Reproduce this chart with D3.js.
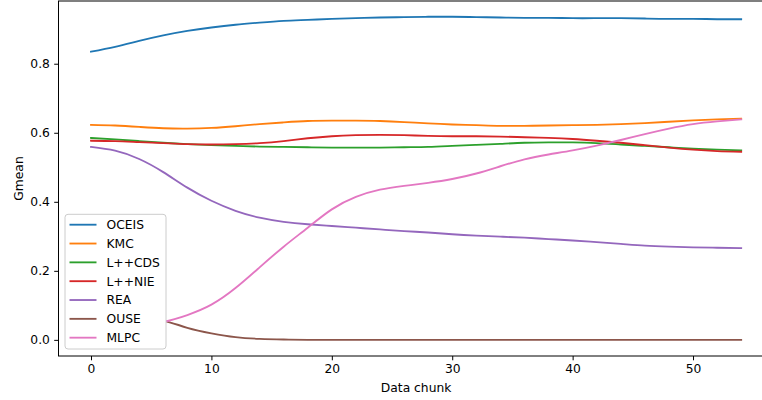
<!DOCTYPE html>
<html>
<head>
<meta charset="utf-8">
<script src="https://cdn.jsdelivr.net/npm/d3@7/dist/d3.min.js"></script>
<style>
  html, body { margin: 0; padding: 0; background: #fff; }
  svg { display: block; }
  text { font-family: "DejaVu Sans", sans-serif; fill: #000; }
</style>
</head>
<body>
<svg id="chart" width="762" height="400"></svg>
<script>
// ---- data ----
const chunks = [0,2,4,6,8,10,12,14,16,18,20,22,24,26,28,30,32,34,36,38,40,42,44,46,48,50,52,54];
const seriesNames = ["OCEIS","KMC","L++CDS","L++NIE","REA","OUSE","MLPC"];
const OCEIS = [0.835,0.849,0.866,0.882,0.895,0.905,0.913,0.919,0.924,0.927,0.930,0.932,0.934,0.935,0.936,0.936,0.935,0.934,0.933,0.933,0.932,0.932,0.932,0.931,0.930,0.930,0.929,0.929];
const KMC = [0.623,0.621,0.617,0.613,0.612,0.614,0.619,0.625,0.630,0.634,0.635,0.635,0.634,0.631,0.627,0.624,0.622,0.620,0.620,0.621,0.622,0.623,0.625,0.628,0.632,0.636,0.639,0.641];
const LCDS = [0.585,0.581,0.576,0.571,0.567,0.564,0.562,0.560,0.559,0.558,0.557,0.557,0.557,0.558,0.559,0.562,0.565,0.568,0.571,0.572,0.572,0.570,0.566,0.562,0.558,0.554,0.551,0.549];
const LNIE = [0.577,0.576,0.573,0.570,0.567,0.566,0.567,0.570,0.576,0.584,0.590,0.593,0.594,0.593,0.591,0.590,0.590,0.589,0.587,0.585,0.582,0.577,0.571,0.564,0.557,0.551,0.547,0.545];
const REA = [0.559,0.548,0.524,0.486,0.441,0.403,0.374,0.354,0.342,0.335,0.330,0.325,0.320,0.315,0.311,0.306,0.302,0.299,0.296,0.292,0.288,0.283,0.278,0.273,0.270,0.268,0.267,0.266];
const OUSE = [0.070,0.069,0.065,0.056,0.035,0.019,0.008,0.003,0.001,0.000,0.000,0.000,0.000,0.000,0.000,0.000,0.000,0.000,0.000,0.000,0.000,0.000,0.000,0.000,0.000,0.000,0.000,0.000];
const MLPC = [0.030,0.035,0.042,0.052,0.072,0.102,0.150,0.210,0.270,0.325,0.378,0.414,0.435,0.446,0.455,0.466,0.482,0.503,0.523,0.537,0.549,0.563,0.579,0.596,0.612,0.625,0.633,0.639];
const seriesValues = [OCEIS, KMC, LCDS, LNIE, REA, OUSE, MLPC];
const colors = ["#1f77b4","#ff7f0e","#2ca02c","#d62728","#9467bd","#8c564b","#e377c2"];
const xTicks = [0,10,20,30,40,50];
const yTicks = [0.0,0.2,0.4,0.6,0.8];
const xLabel = "Data chunk";
const yLabel = "Gmean";

// ---- layout ----
const svg = d3.select("#chart");
const L = 58.5, R = 773.7, T = 1, B = 356;
const fs = 12.3;

const x = d3.scaleLinear().domain([-2.7, 56.7]).range([L, R]);
const y = d3.scaleLinear().domain([-0.04675, 0.98175]).range([B, T]);

// lines
const line = d3.line().x(d => x(d[0])).y(d => y(d[1])).curve(d3.curveNatural);
const plot = svg.append("g");
seriesValues.forEach((vals, i) => {
  plot.append("path")
    .datum(chunks.map((c, j) => [c, vals[j]]))
    .attr("d", line)
    .attr("fill", "none")
    .attr("stroke", colors[i])
    .attr("stroke-width", 1.85)
    .attr("stroke-linecap", "square")
    .attr("stroke-linejoin", "round");
});

// axes
const xAxis = d3.axisBottom(x).tickValues(xTicks).tickFormat(d3.format("d")).tickSize(4.3).tickPadding(4.3);
const yAxis = d3.axisLeft(y).tickValues(yTicks).tickFormat(d3.format(".1f")).tickSize(4.3).tickPadding(4.3);
const gx = svg.append("g").attr("transform", `translate(0,${B})`).call(xAxis);
const gy = svg.append("g").attr("transform", `translate(${L},0)`).call(yAxis);
[gx, gy].forEach(g => {
  g.select(".domain").remove();
  g.selectAll(".tick line").attr("stroke", "#000").attr("stroke-width", 1);
  g.selectAll(".tick text").attr("font-size", fs).attr("font-family", "DejaVu Sans, sans-serif").attr("fill", "#000");
});

// spines
svg.append("rect").attr("x", L).attr("y", T).attr("width", R - L).attr("height", B - T)
  .attr("fill", "none").attr("stroke", "#000").attr("stroke-width", 1);

// axis labels
svg.append("text").attr("x", (L + R) / 2).attr("y", 392.3).attr("text-anchor", "middle")
  .attr("font-size", fs).text(xLabel);
svg.append("text").attr("transform", `translate(22.5,${(T + B) / 2}) rotate(-90)`)
  .attr("text-anchor", "middle").attr("font-size", fs).text(yLabel);

// legend
const lg = svg.append("g");
const lx = 65, ly = 214.3, lw = 101, lh = 134.7;
lg.append("rect").attr("x", lx).attr("y", ly).attr("width", lw).attr("height", lh)
  .attr("rx", 3).attr("ry", 3)
  .attr("fill", "#fff").attr("fill-opacity", 1)
  .attr("stroke", "#cccccc").attr("stroke-width", 1);
seriesNames.forEach((name, i) => {
  const cy = 224.7 + i * 18.83;
  lg.append("line").attr("x1", 69.5).attr("x2", 96.5).attr("y1", cy).attr("y2", cy)
    .attr("stroke", colors[i]).attr("stroke-width", 1.85);
  lg.append("text").attr("x", 106.5).attr("y", cy).attr("dy", "0.36em")
    .attr("font-size", fs).text(name);
});
</script>
</body>
</html>
